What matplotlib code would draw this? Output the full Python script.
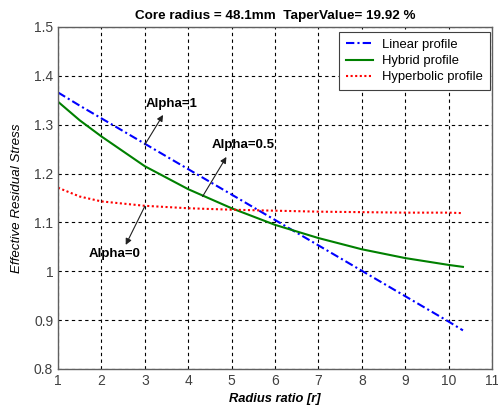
import matplotlib
matplotlib.use("Agg")
import matplotlib.pyplot as plt

plt.rcParams['font.family'] = ['Liberation Sans', 'DejaVu Sans']

x = [1, 1.5, 2, 3, 4, 5, 6, 7, 8, 9, 10, 10.33]
linear = [1.366, 1.339, 1.313, 1.261, 1.209, 1.157, 1.105, 1.053, 1.001, 0.949, 0.897, 0.879]
hybrid = [1.347, 1.309, 1.276, 1.215, 1.168, 1.129, 1.095, 1.068, 1.045, 1.027, 1.013, 1.009]
hyperbolic = [1.171, 1.153, 1.143, 1.134, 1.129, 1.126, 1.124, 1.122, 1.121, 1.120, 1.120, 1.119]

series_labels = ['Linear profile', 'Hybrid profile', 'Hyperbolic profile']
xticks = list(range(1, 12))
yticks = [0.8, 0.9, 1.0, 1.1, 1.2, 1.3, 1.4, 1.5]
ytick_labels = ['0.8', '0.9', '1', '1.1', '1.2', '1.3', '1.4', '1.5']

annotations = [
    ('Alpha=1', (3.0, 1.259), (3.42, 1.320), (3.03, 1.343)),
    ('Alpha=0.5', (4.33, 1.153), (4.88, 1.234), (4.53, 1.259)),
    ('Alpha=0', (3.0, 1.133), (2.56, 1.054), (1.70, 1.036)),
]

fig = plt.figure(figsize=(4.98, 4.07), dpi=100)
ax = fig.add_axes([0.1165, 0.0934, 0.8715, 0.8403])

ax.plot(x, linear, color='#0000ff', linestyle=(0, (4, 1.5, 1, 1.5)), linewidth=1.5, label=series_labels[0])
ax.plot(x, hybrid, color='#008000', linestyle='-', linewidth=1.5, label=series_labels[1])
ax.plot(x, hyperbolic, color='#ff0000', linestyle=(0, (1, 1.2)), linewidth=1.5, label=series_labels[2])

ax.set_xlim(1, 11)
ax.set_ylim(0.8, 1.5)
ax.set_xticks(xticks)
ax.set_yticks(yticks)
ax.set_yticklabels(ytick_labels)
ax.tick_params(axis='both', which='both', length=0, labelsize=10, colors='#404040', pad=3.5)
ax.grid(True, color='black', linestyle=(0, (3, 3)), linewidth=0.8)
for s in ax.spines.values():
    s.set_color('#606060')
    s.set_linewidth(1.0)

for txt, xy, head, tpos in annotations:
    ax.annotate('', xy=head, xytext=xy,
                arrowprops=dict(arrowstyle='-|>', color='#202020', lw=0.8,
                                mutation_scale=9, shrinkA=0, shrinkB=0))
    ax.text(tpos[0], tpos[1], txt, fontsize=9.5, fontweight='bold', va='center', ha='left')

leg = ax.legend(loc='upper right', fontsize=9.4, frameon=True, fancybox=False,
                edgecolor='#404040', framealpha=1, handlelength=2.1,
                borderaxespad=0.0, labelspacing=0.32, handletextpad=0.7,
                borderpad=0.5, bbox_to_anchor=(0.995, 0.985))
leg.get_frame().set_linewidth(0.8)

ax.set_title('Core radius = 48.1mm  TaperValue= 19.92 %', fontsize=9.7, fontweight='bold', pad=6)
ax.set_xlabel('Radius ratio [r]', fontsize=9.3, fontstyle='italic', fontweight='bold', labelpad=4)
ax.set_ylabel('Effective Residual Stress', fontsize=9.6, fontstyle='italic', labelpad=8)

fig.savefig('out.png', dpi=100)
